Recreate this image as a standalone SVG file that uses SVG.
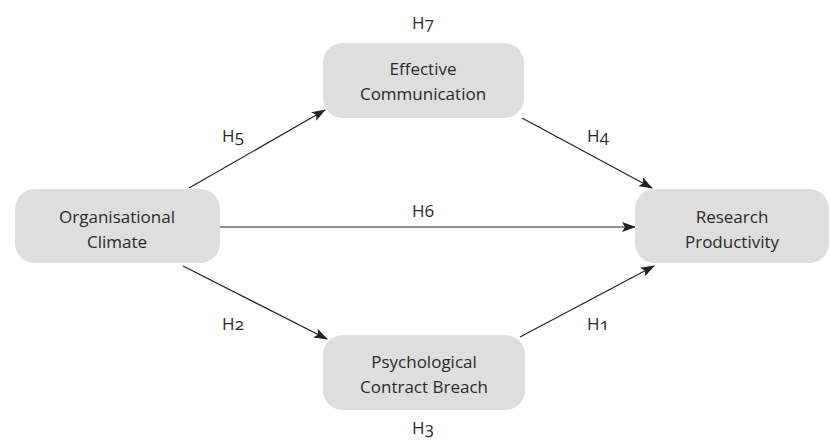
<svg xmlns="http://www.w3.org/2000/svg" width="830" height="440" viewBox="0 0 830 440">
<style>
.node{fill:#dedede;}
.t{font-family:"Open Sans","Noto Sans",sans-serif;font-size:17px;fill:#2a2a2a;text-anchor:middle;font-variant-numeric:oldstyle-nums;}
.c{stroke:#222;stroke-width:1.2;fill:none;marker-end:url(#ah);}
</style>
<defs>
<marker id="ah" markerWidth="14" markerHeight="10" refX="13" refY="5" orient="auto" markerUnits="userSpaceOnUse">
<path d="M0,0 L14,5 L0,10 L3,5 Z" fill="#222"/>
</marker>
</defs>
<g id="connectors">
<line class="c" x1="189" y1="188" x2="325" y2="110"/>
<line class="c" x1="522" y1="118" x2="652" y2="188"/>
<line class="c" x1="220" y1="227" x2="635" y2="227"/>
<line class="c" x1="183" y1="266" x2="327" y2="339"/>
<line class="c" x1="520" y1="337" x2="654" y2="266"/>
<text class="t" x="233" y="142">H5</text>
<text class="t" x="598" y="142">H4</text>
<text class="t" x="423" y="217">H6</text>
<text class="t" x="233" y="330">H2</text>
<text class="t" x="598" y="330">H1</text>
<text class="t" x="423" y="29">H7</text>
<text class="t" x="423" y="434">H3</text>
</g>
<g id="effective">
<rect class="node" x="323" y="43" width="201" height="75" rx="20"/>
<text class="t" x="423" y="75">Effective</text>
<text class="t" x="423" y="100">Communication</text>
</g>
<g id="climate">
<rect class="node" x="15" y="189" width="205" height="74" rx="20"/>
<text class="t" x="117" y="223">Organisational</text>
<text class="t" x="117" y="248">Climate</text>
</g>
<g id="research">
<rect class="node" x="635" y="189" width="194" height="74" rx="20"/>
<text class="t" x="732" y="223">Research</text>
<text class="t" x="732" y="248">Productivity</text>
</g>
<g id="breach">
<rect class="node" x="323" y="335" width="202" height="75" rx="20"/>
<text class="t" x="424" y="368">Psychological</text>
<text class="t" x="424" y="393">Contract Breach</text>
</g>
</svg>
